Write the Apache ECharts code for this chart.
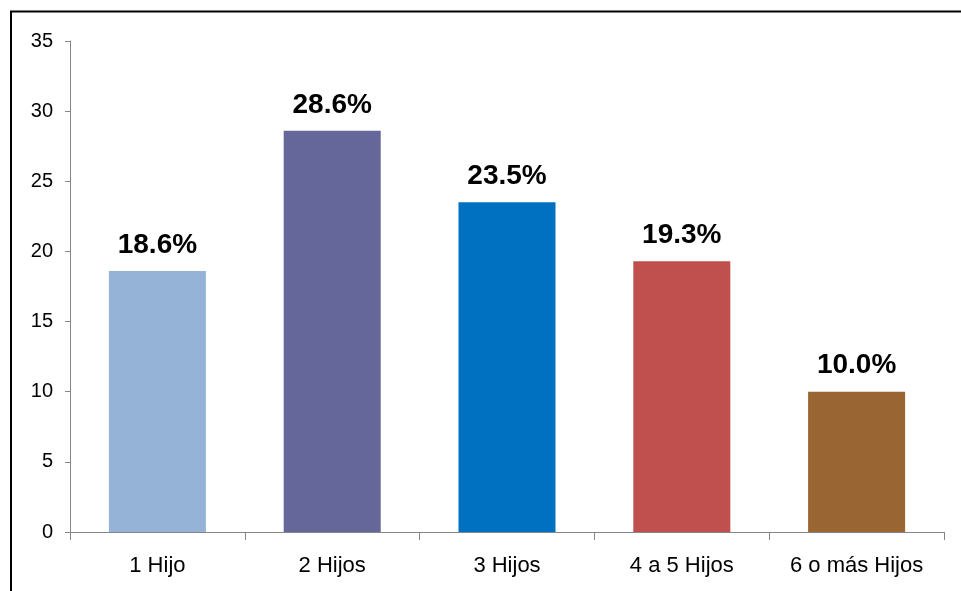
<!DOCTYPE html>
<html>
<head>
<meta charset="utf-8">
<script src="https://cdn.jsdelivr.net/npm/echarts@6/dist/echarts.min.js"></script>
<style>html,body{margin:0;padding:0;background:#fff;}#c{width:961px;height:591px;}</style>
</head>
<body>
<div id="c"></div>
<script>
const categories = ['1 Hijo', '2 Hijos', '3 Hijos', '4 a 5 Hijos', '6 o más Hijos'];
const values = [18.6, 28.6, 23.5, 19.3, 10.0];
const colors = ['#95B3D7', '#65669A', '#0070C0', '#C0504D', '#996633'];
const yTicks = { min: 0, max: 35, interval: 5 };

const chart = echarts.init(document.getElementById('c'), null, { renderer: 'canvas' });
const font = 'Liberation Sans, Arial, sans-serif';
chart.setOption({
  animation: false,
  backgroundColor: '#fff',
  grid: { left: 70, right: 17, top: 41, bottom: 59, containLabel: false },
  graphic: [
    { type: 'line', shape: { x1: 10, y1: 11.5, x2: 961, y2: 11.5 }, style: { stroke: '#000', lineWidth: 2 } },
    { type: 'line', shape: { x1: 11, y1: 11, x2: 11, y2: 591 }, style: { stroke: '#000', lineWidth: 2 } }
  ],
  xAxis: {
    type: 'category',
    data: categories,
    axisLine: { lineStyle: { color: '#868686', width: 1 } },
    axisTick: { show: true, length: 8, alignWithLabel: false, lineStyle: { color: '#868686' } },
    axisLabel: { color: '#000', fontFamily: font, fontSize: 22, margin: 23 }
  },
  yAxis: {
    type: 'value',
    min: yTicks.min, max: yTicks.max, interval: yTicks.interval,
    splitLine: { show: false },
    axisLine: { show: true, lineStyle: { color: '#868686', width: 1 } },
    axisTick: { show: true, length: 5, lineStyle: { color: '#868686' } },
    axisLabel: { color: '#000', fontFamily: font, fontSize: 20, margin: 17 }
  },
  series: [{
    type: 'bar',
    data: values.map((v, i) => ({ value: v, itemStyle: { color: colors[i] } })),
    barWidth: '55.5%',
    label: {
      show: true, position: 'top', distance: 12,
      formatter: p => p.value.toFixed(1) + '%',
      color: '#000', fontFamily: font, fontWeight: 'bold', fontSize: 28
    }
  }]
});
</script>
</body>
</html>
